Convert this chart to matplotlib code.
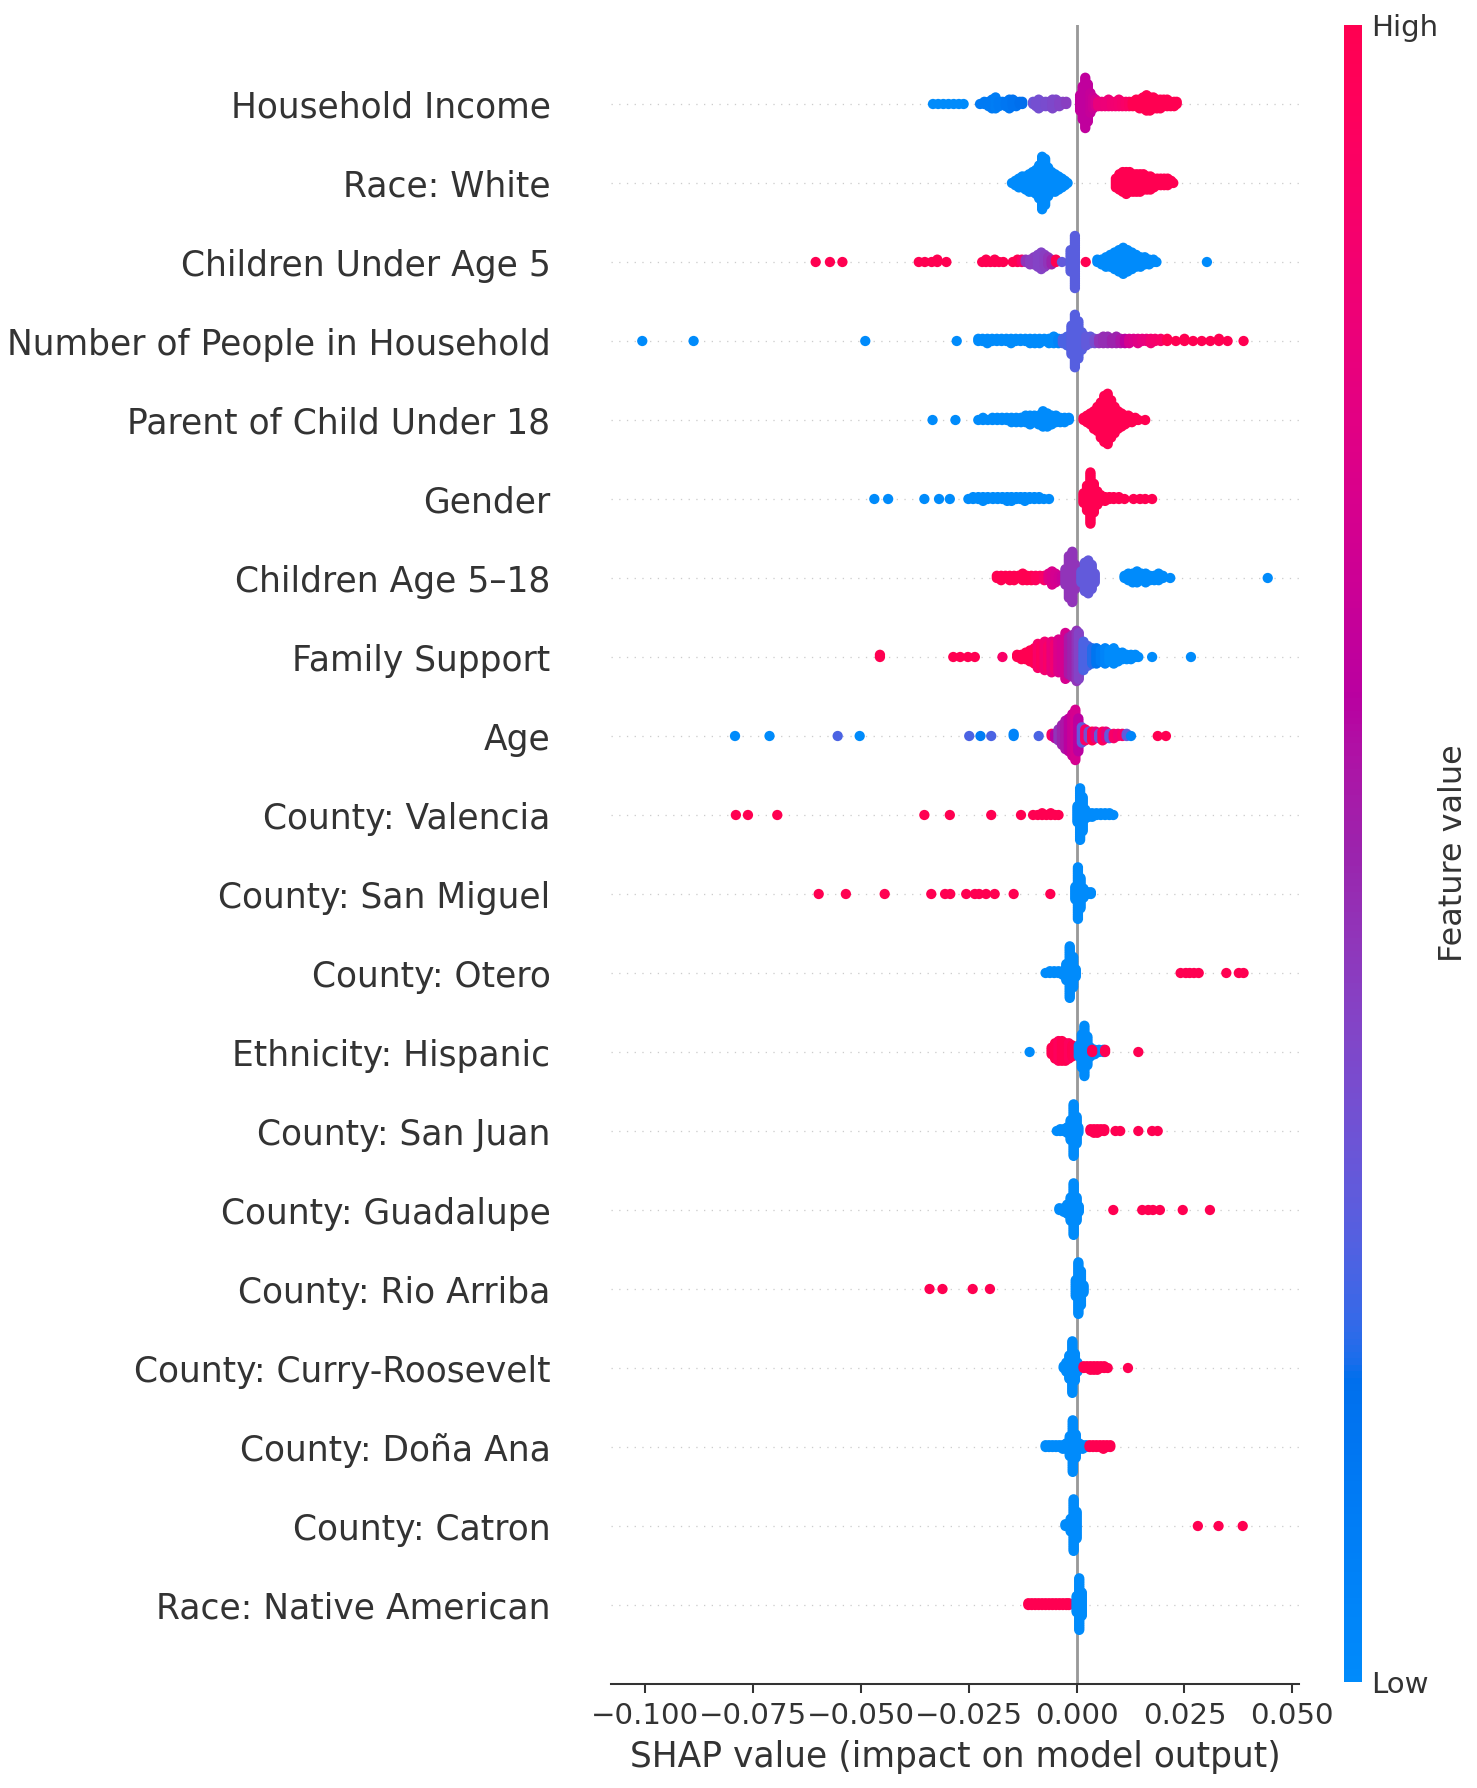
import numpy as np
import matplotlib
matplotlib.use('Agg')
import matplotlib.pyplot as plt
from matplotlib.colors import LinearSegmentedColormap
from matplotlib.ticker import MultipleLocator

features = ['Household Income', 'Race: White', 'Children Under Age 5',
            'Number of People in Household', 'Parent of Child Under 18', 'Gender',
            'Children Age 5–18', 'Family Support', 'Age', 'County: Valencia',
            'County: San Miguel', 'County: Otero', 'Ethnicity: Hispanic',
            'County: San Juan', 'County: Guadalupe', 'County: Rio Arriba',
            'County: Curry-Roosevelt', 'County: Doña Ana', 'County: Catron',
            'Race: Native American']

# each entry: (SHAP value, number of points stacked at that value, feature value 0=low..1=high)
household_income = [
    (-0.0333, 1, 0.0), (-0.0321, 1, 0.0), (-0.0309, 1, 0.0), (-0.0297, 1, 0.0),
    (-0.0285, 1, 0.0), (-0.0273, 1, 0.0), (-0.0262, 1, 0.0),
    (-0.0224, 1, 0.12), (-0.0214, 2, 0.12), (-0.0204, 3, 0.12), (-0.0196, 5, 0.12),
    (-0.0188, 6, 0.1), (-0.0180, 3, 0.12), (-0.0172, 2, 0.12), (-0.0164, 3, 0.14),
    (-0.0156, 5, 0.14), (-0.0148, 4, 0.16), (-0.0140, 3, 0.16), (-0.0132, 2, 0.18),
    (-0.0126, 2, 0.18),
    (-0.0101, 2, 0.33), (-0.0094, 3, 0.35), (-0.0088, 5, 0.35), (-0.0080, 3, 0.35),
    (-0.0072, 3, 0.36), (-0.0064, 3, 0.36), (-0.0056, 5, 0.38), (-0.0048, 4, 0.38),
    (-0.0040, 3, 0.4), (-0.0032, 2, 0.4), (-0.0024, 2, 0.42),
    (0.0008, 8, 0.62), (0.0014, 16, 0.62), (0.0020, 24, 0.62), (0.0026, 18, 0.62),
    (0.0032, 10, 0.64), (0.0038, 6, 0.66), (0.0044, 4, 0.7),
    (0.0050, 3, 0.8), (0.0058, 3, 0.8), (0.0066, 3, 0.82), (0.0074, 4, 0.82),
    (0.0082, 3, 0.84), (0.0090, 3, 0.85), (0.0098, 4, 0.86), (0.0106, 3, 0.88),
    (0.0114, 3, 0.9), (0.0122, 3, 0.92),
    (0.0130, 3, 1.0), (0.0138, 4, 1.0), (0.0146, 5, 1.0), (0.0154, 6, 1.0),
    (0.0162, 8, 1.0), (0.0170, 7, 1.0), (0.0178, 6, 1.0), (0.0186, 5, 1.0),
    (0.0194, 5, 1.0), (0.0202, 4, 1.0), (0.0210, 4, 1.0), (0.0218, 3, 1.0),
    (0.0226, 3, 1.0), (0.0232, 2, 1.0)]

race_white = [
    (-0.0150, 1, 0.0), (-0.0142, 3, 0.0), (-0.0134, 5, 0.0), (-0.0126, 6, 0.0),
    (-0.0118, 7, 0.0), (-0.0110, 9, 0.0), (-0.0102, 10, 0.0), (-0.0094, 12, 0.0),
    (-0.0087, 16, 0.0), (-0.0080, 25, 0.0), (-0.0073, 22, 0.0), (-0.0066, 14, 0.0),
    (-0.0058, 10, 0.0), (-0.0050, 9, 0.0), (-0.0042, 7, 0.0), (-0.0034, 5, 0.0),
    (-0.0027, 3, 0.0), (-0.0021, 1, 0.0),
    (0.0091, 5, 1.0), (0.0099, 8, 1.0), (0.0107, 10, 1.0), (0.0115, 11, 1.0),
    (0.0123, 10, 1.0), (0.0131, 9, 1.0), (0.0139, 9, 1.0), (0.0147, 9, 1.0),
    (0.0155, 8, 1.0), (0.0163, 7, 1.0), (0.0171, 7, 1.0), (0.0179, 5, 1.0),
    (0.0187, 4, 1.0), (0.0195, 4, 1.0), (0.0203, 4, 1.0), (0.0211, 4, 1.0),
    (0.0219, 2, 1.0), (0.0224, 1, 1.0)]

children_under_5 = [
    (-0.0605, 1, 1.0), (-0.0572, 1, 1.0), (-0.0543, 1, 1.0),
    (-0.0366, 1, 1.0), (-0.0352, 1, 1.0), (-0.0336, 1, 1.0), (-0.0323, 2, 1.0),
    (-0.0302, 1, 1.0),
    (-0.0219, 1, 1.0), (-0.0210, 2, 1.0), (-0.0200, 1, 1.0), (-0.0190, 2, 1.0),
    (-0.0180, 1, 1.0), (-0.0170, 1, 1.0), (-0.0148, 1, 1.0), (-0.0137, 2, 1.0),
    (-0.0127, 2, 0.9),
    (-0.0118, 2, 0.45), (-0.0108, 3, 0.42), (-0.0099, 4, 0.42), (-0.0090, 6, 0.4),
    (-0.0082, 8, 0.4), (-0.0074, 6, 0.42), (-0.0066, 4, 0.45), (-0.0058, 3, 0.5),
    (-0.0048, 2, 1.0), (-0.0034, 1, 0.3),
    (-0.0014, 10, 0.28), (-0.0004, 23, 0.28),
    (0.0021, 1, 1.0),
    (0.0048, 2, 0.0), (0.0058, 3, 0.0), (0.0068, 5, 0.0), (0.0078, 6, 0.0),
    (0.0088, 8, 0.0), (0.0098, 10, 0.0), (0.0108, 12, 0.0), (0.0118, 10, 0.0),
    (0.0128, 8, 0.0), (0.0138, 6, 0.0), (0.0148, 5, 0.0), (0.0158, 4, 0.0),
    (0.0168, 3, 0.0), (0.0178, 2, 0.0), (0.0185, 1, 0.0), (0.0302, 1, 0.0)]

people_in_household = [
    (-0.1007, 1, 0.0), (-0.0888, 1, 0.0), (-0.0490, 1, 0.0), (-0.0278, 1, 0.0),
    (-0.0228, 2, 0.0), (-0.0218, 2, 0.0), (-0.0207, 3, 0.0), (-0.0196, 2, 0.0),
    (-0.0185, 2, 0.0), (-0.0174, 2, 0.0), (-0.0163, 2, 0.0), (-0.0152, 3, 0.0),
    (-0.0141, 2, 0.0), (-0.0130, 2, 0.0), (-0.0119, 2, 0.0), (-0.0108, 3, 0.0),
    (-0.0097, 3, 0.0), (-0.0086, 3, 0.0), (-0.0075, 2, 0.0), (-0.0064, 3, 0.0),
    (-0.0053, 4, 0.0), (-0.0042, 3, 0.05),
    (-0.0032, 3, 0.25), (-0.0022, 5, 0.25), (-0.0012, 14, 0.27), (-0.0004, 25, 0.27),
    (0.0004, 18, 0.27), (0.0012, 9, 0.27), (0.0022, 5, 0.3), (0.0032, 4, 0.3),
    (0.0042, 3, 0.35),
    (0.0052, 3, 0.45), (0.0062, 4, 0.47), (0.0072, 4, 0.47), (0.0082, 3, 0.5),
    (0.0092, 4, 0.5), (0.0102, 3, 0.55), (0.0112, 3, 0.6),
    (0.0122, 3, 0.7), (0.0132, 2, 0.72), (0.0142, 3, 0.75), (0.0152, 2, 0.78),
    (0.0162, 2, 0.8), (0.0172, 3, 0.85), (0.0182, 2, 0.88), (0.0195, 2, 0.9),
    (0.0210, 2, 1.0), (0.0230, 1, 1.0), (0.0250, 2, 1.0), (0.0270, 1, 1.0),
    (0.0290, 1, 1.0), (0.0310, 1, 1.0), (0.0330, 2, 1.0), (0.0350, 1, 1.0),
    (0.0387, 1, 1.0)]

parent_under_18 = [
    (-0.0334, 1, 0.0), (-0.0281, 1, 0.0), (-0.0228, 1, 0.0), (-0.0217, 2, 0.0),
    (-0.0206, 1, 0.0), (-0.0195, 2, 0.0), (-0.0184, 2, 0.0), (-0.0173, 2, 0.0),
    (-0.0162, 2, 0.0), (-0.0151, 3, 0.0), (-0.0140, 3, 0.0), (-0.0129, 3, 0.0),
    (-0.0118, 4, 0.0), (-0.0108, 5, 0.0), (-0.0098, 4, 0.0), (-0.0088, 5, 0.0),
    (-0.0078, 8, 0.0), (-0.0068, 7, 0.0), (-0.0058, 5, 0.0), (-0.0048, 4, 0.0),
    (-0.0038, 3, 0.0), (-0.0028, 3, 0.0), (-0.0018, 2, 0.0),
    (0.0016, 2, 1.0), (0.0024, 4, 1.0), (0.0032, 6, 1.0), (0.0040, 9, 1.0),
    (0.0048, 12, 1.0), (0.0056, 17, 1.0), (0.0064, 22, 1.0), (0.0072, 24, 1.0),
    (0.0080, 18, 1.0), (0.0088, 13, 1.0), (0.0096, 9, 1.0), (0.0104, 7, 1.0),
    (0.0112, 5, 1.0), (0.0120, 4, 1.0), (0.0128, 3, 1.0), (0.0136, 2, 1.0),
    (0.0143, 1, 1.0), (0.0159, 1, 1.0)]

gender = [
    (-0.0469, 1, 0.0), (-0.0437, 1, 0.0), (-0.0353, 1, 0.0), (-0.0319, 1, 0.0),
    (-0.0294, 1, 0.0), (-0.0251, 1, 0.0), (-0.0240, 2, 0.0), (-0.0228, 2, 0.0),
    (-0.0217, 3, 0.0), (-0.0206, 2, 0.0), (-0.0194, 2, 0.0), (-0.0183, 2, 0.0),
    (-0.0172, 2, 0.0), (-0.0161, 3, 0.0), (-0.0151, 3, 0.0), (-0.0140, 2, 0.0),
    (-0.0130, 2, 0.0), (-0.0120, 3, 0.0), (-0.0109, 2, 0.0), (-0.0098, 2, 0.0),
    (-0.0087, 2, 0.0), (-0.0076, 1, 0.0), (-0.0064, 1, 0.0),
    (0.0016, 6, 1.0), (0.0024, 14, 1.0), (0.0032, 28, 1.0), (0.0040, 16, 1.0),
    (0.0048, 8, 1.0), (0.0056, 4, 1.0), (0.0066, 3, 1.0), (0.0076, 2, 1.0),
    (0.0086, 2, 1.0), (0.0098, 2, 1.0), (0.0111, 1, 1.0), (0.0132, 1, 1.0),
    (0.0147, 1, 1.0), (0.0159, 1, 1.0), (0.0175, 1, 1.0)]

children_5_18 = [
    (-0.0185, 2, 1.0), (-0.0175, 3, 1.0), (-0.0165, 2, 1.0), (-0.0155, 3, 1.0),
    (-0.0145, 3, 1.0), (-0.0135, 2, 1.0), (-0.0125, 4, 1.0), (-0.0115, 3, 1.0),
    (-0.0105, 3, 1.0), (-0.0095, 3, 0.95), (-0.0085, 2, 0.95), (-0.0075, 3, 0.9),
    (-0.0065, 4, 0.75), (-0.0057, 7, 0.72), (-0.0049, 5, 0.7), (-0.0041, 3, 0.68),
    (-0.0034, 3, 0.65),
    (-0.0026, 8, 0.45), (-0.0018, 20, 0.45), (-0.0010, 24, 0.45), (-0.0003, 12, 0.45),
    (0.0011, 6, 0.3), (0.0019, 14, 0.3), (0.0027, 16, 0.3), (0.0035, 12, 0.3),
    (0.0042, 5, 0.3),
    (0.0111, 2, 0.0), (0.0120, 4, 0.0), (0.0130, 5, 0.0), (0.0140, 6, 0.0),
    (0.0150, 4, 0.0), (0.0160, 5, 0.0), (0.0170, 3, 0.0), (0.0180, 3, 0.0),
    (0.0190, 4, 0.0), (0.0200, 2, 0.0), (0.0217, 1, 0.0), (0.0443, 1, 0.0)]

family_support = [
    (-0.0456, 2, 1.0), (-0.0286, 1, 1.0), (-0.0270, 1, 1.0), (-0.0252, 1, 1.0),
    (-0.0236, 1, 1.0), (-0.0172, 1, 0.9),
    (-0.0138, 2, 1.0), (-0.0128, 3, 1.0), (-0.0118, 4, 1.0), (-0.0108, 6, 1.0),
    (-0.0098, 8, 1.0), (-0.0090, 12, 0.9), (-0.0082, 10, 0.95), (-0.0074, 14, 0.85),
    (-0.0066, 11, 0.9), (-0.0058, 15, 0.8), (-0.0050, 13, 0.85),
    (-0.0042, 16, 0.72), (-0.0034, 14, 0.7), (-0.0026, 22, 0.7),
    (-0.0018, 18, 0.55), (-0.0010, 20, 0.5), (0.0000, 24, 0.45), (0.0005, 22, 0.4),
    (0.0016, 14, 0.25), (0.0026, 10, 0.25), (0.0036, 8, 0.2), (0.0046, 8, 0.15),
    (0.0056, 6, 0.1),
    (0.0066, 8, 0.05), (0.0076, 6, 0.0), (0.0086, 8, 0.0), (0.0096, 5, 0.0),
    (0.0106, 4, 0.0), (0.0116, 3, 0.0), (0.0126, 3, 0.0), (0.0136, 2, 0.0),
    (0.0143, 1, 0.0), (0.0175, 1, 0.0), (0.0265, 1, 0.0)]

age = [
    (-0.0792, 1, 0.0), (-0.0712, 1, 0.0), (-0.0554, 1, 0.25), (-0.0503, 1, 0.0),
    (-0.0249, 1, 0.25), (-0.0223, 1, 0.1), (-0.0198, 1, 0.25), (-0.0146, 2, 0.05),
    (-0.0088, 1, 0.25),
    (-0.0058, 2, 0.9), (-0.0050, 3, 0.6), (-0.0042, 6, 0.45), (-0.0034, 10, 0.5),
    (-0.0026, 14, 0.55), (-0.0018, 16, 0.6), (-0.0010, 20, 0.65), (-0.0003, 24, 0.7),
    (0.0004, 16, 0.6), (0.0012, 8, 0.3), (0.0020, 6, 0.9), (0.0028, 4, 0.35),
    (0.0036, 5, 1.0), (0.0044, 4, 0.8), (0.0052, 3, 0.3), (0.0060, 5, 0.95),
    (0.0068, 4, 0.8), (0.0076, 3, 0.3), (0.0086, 3, 0.9), (0.0096, 2, 0.85),
    (0.0106, 2, 0.9), (0.0116, 2, 0.3), (0.0126, 1, 0.05),
    (0.0188, 1, 1.0), (0.0207, 1, 1.0)]

county_valencia = [
    (-0.0790, 1, 1.0), (-0.0762, 1, 1.0), (-0.0694, 1, 1.0), (-0.0353, 1, 1.0),
    (-0.0294, 1, 1.0), (-0.0198, 1, 1.0), (-0.0129, 1, 1.0), (-0.0101, 1, 1.0),
    (-0.0090, 1, 1.0), (-0.0080, 2, 1.0), (-0.0070, 1, 1.0), (-0.0060, 2, 1.0),
    (-0.0050, 1, 1.0), (-0.0042, 1, 1.0),
    (0.0002, 10, 0.0), (0.0008, 30, 0.0), (0.0014, 20, 0.0), (0.0020, 6, 0.0),
    (0.0028, 3, 0.0), (0.0036, 3, 0.0), (0.0046, 2, 0.0), (0.0056, 2, 0.0),
    (0.0066, 2, 0.0), (0.0076, 2, 0.0), (0.0085, 1, 0.0)]

county_san_miguel = [
    (-0.0598, 1, 1.0), (-0.0535, 1, 1.0), (-0.0445, 1, 1.0), (-0.0337, 1, 1.0),
    (-0.0305, 1, 1.0), (-0.0293, 1, 1.0), (-0.0256, 1, 1.0), (-0.0236, 1, 1.0),
    (-0.0226, 1, 1.0), (-0.0210, 1, 1.0), (-0.0190, 1, 1.0), (-0.0146, 1, 1.0),
    (-0.0061, 1, 1.0),
    (-0.0003, 8, 0.0), (0.0003, 30, 0.0), (0.0009, 18, 0.0), (0.0016, 6, 0.0),
    (0.0026, 2, 0.0), (0.0033, 2, 0.0)]

county_otero = [
    (-0.0072, 1, 0.0), (-0.0062, 2, 0.0), (-0.0052, 2, 0.0), (-0.0042, 2, 0.0),
    (-0.0032, 3, 0.0), (-0.0024, 10, 0.0), (-0.0016, 30, 0.0), (-0.0008, 18, 0.0),
    (-0.0002, 5, 0.0),
    (0.0241, 1, 1.0), (0.0253, 1, 1.0), (0.0262, 1, 1.0), (0.0272, 1, 1.0),
    (0.0283, 1, 1.0), (0.0347, 1, 1.0), (0.0376, 1, 1.0), (0.0387, 1, 1.0)]

ethnicity_hispanic = [
    (-0.0109, 1, 0.0),
    (-0.0058, 4, 1.0), (-0.0050, 8, 1.0), (-0.0042, 10, 0.95), (-0.0034, 10, 1.0),
    (-0.0026, 9, 1.0), (-0.0018, 8, 0.95), (-0.0010, 6, 1.0),
    (0.0005, 6, 0.0), (0.0012, 16, 0.0), (0.0018, 24, 0.0), (0.0025, 14, 0.0),
    (0.0032, 5, 0.0), (0.0042, 3, 0.0), (0.0052, 2, 0.0), (0.0062, 2, 0.0),
    (0.0036, 2, 1.0), (0.0066, 2, 1.0), (0.0143, 1, 1.0)]

county_san_juan = [
    (-0.0046, 1, 0.0), (-0.0038, 2, 0.0), (-0.0030, 2, 0.0), (-0.0022, 4, 0.0),
    (-0.0014, 12, 0.0), (-0.0007, 30, 0.0), (0.0000, 16, 0.0), (0.0004, 4, 0.0),
    (0.0032, 2, 1.0), (0.0040, 3, 1.0), (0.0048, 3, 1.0), (0.0056, 2, 1.0),
    (0.0064, 2, 1.0), (0.0090, 1, 1.0), (0.0101, 1, 1.0), (0.0143, 1, 1.0),
    (0.0175, 1, 1.0), (0.0188, 1, 1.0)]

county_guadalupe = [
    (-0.0040, 2, 0.0), (-0.0030, 3, 0.0), (-0.0022, 6, 0.0), (-0.0014, 14, 0.0),
    (-0.0007, 30, 0.0), (0.0000, 14, 0.0), (0.0005, 4, 0.0),
    (0.0085, 1, 1.0), (0.0152, 1, 1.0), (0.0166, 1, 1.0), (0.0177, 1, 1.0),
    (0.0193, 1, 1.0), (0.0246, 1, 1.0), (0.0309, 1, 1.0)]

county_rio_arriba = [
    (-0.0341, 1, 1.0), (-0.0311, 1, 1.0), (-0.0241, 1, 1.0), (-0.0201, 1, 1.0),
    (-0.0002, 10, 0.0), (0.0004, 30, 0.0), (0.0010, 20, 0.0), (0.0016, 5, 0.0)]

county_curry_roosevelt = [
    (-0.0030, 2, 0.0), (-0.0024, 6, 0.0), (-0.0017, 14, 0.0), (-0.0010, 30, 0.0),
    (-0.0004, 16, 0.0), (0.0002, 6, 0.0),
    (0.0016, 2, 1.0), (0.0024, 2, 1.0), (0.0032, 3, 1.0), (0.0040, 3, 1.0),
    (0.0048, 3, 1.0), (0.0056, 2, 1.0), (0.0064, 2, 1.0), (0.0072, 1, 1.0),
    (0.0119, 1, 1.0)]

county_dona_ana = [
    (-0.0072, 2, 0.0), (-0.0064, 2, 0.0), (-0.0056, 2, 0.0), (-0.0048, 2, 0.0),
    (-0.0040, 2, 0.0), (-0.0032, 3, 0.0), (-0.0024, 4, 0.0), (-0.0016, 12, 0.0),
    (-0.0009, 30, 0.0), (-0.0002, 14, 0.0), (0.0006, 4, 0.0), (0.0014, 3, 0.0),
    (0.0022, 2, 0.0),
    (0.0030, 2, 1.0), (0.0038, 2, 1.0), (0.0046, 2, 1.0), (0.0054, 2, 1.0),
    (0.0062, 3, 1.0), (0.0070, 2, 1.0), (0.0078, 2, 1.0)]

county_catron = [
    (-0.0026, 2, 0.0), (-0.0014, 8, 0.0), (-0.0007, 30, 0.0), (0.0000, 16, 0.0),
    (0.0281, 1, 1.0), (0.0329, 1, 1.0), (0.0385, 1, 1.0)]

race_native_american = [
    (-0.0112, 2, 1.0), (-0.0104, 2, 1.0), (-0.0096, 2, 1.0), (-0.0088, 2, 1.0),
    (-0.0080, 2, 1.0), (-0.0072, 2, 1.0), (-0.0064, 2, 1.0), (-0.0056, 2, 1.0),
    (-0.0048, 2, 1.0), (-0.0040, 2, 1.0), (-0.0032, 2, 1.0), (-0.0024, 2, 1.0),
    (-0.0018, 2, 1.0),
    (0.0000, 10, 0.0), (0.0006, 30, 0.0), (0.0012, 14, 0.0)]

rows = [household_income, race_white, children_under_5, people_in_household,
        parent_under_18, gender, children_5_18, family_support, age,
        county_valencia, county_san_miguel, county_otero, ethnicity_hispanic,
        county_san_juan, county_guadalupe, county_rio_arriba,
        county_curry_roosevelt, county_dona_ana, county_catron,
        race_native_american]


# shap style red-blue colour scale, built in LCH space
def lch2rgb(l, c, h):
    a = c * np.cos(h)
    b = c * np.sin(h)
    fy = (l + 16.0) / 116.0
    f = np.array([fy + a / 500.0, fy, fy - b / 200.0])
    xyz = np.where(f > 0.2068966, f ** 3, (f - 16.0 / 116.0) / 7.787)
    xyz = xyz * np.array([0.95047, 1.0, 1.08883])
    m = np.array([[3.2406, -1.5372, -0.4986],
                  [-0.9689, 1.8758, 0.0415],
                  [0.0557, -0.2040, 1.0570]])
    rgb = m @ xyz
    rgb = np.where(rgb > 0.0031308,
                   1.055 * np.power(np.clip(rgb, 1e-12, None), 1 / 2.4) - 0.055,
                   12.92 * rgb)
    return np.clip(rgb, 0, 1)


nsteps = 100
l_vals = list(np.linspace(54., 40., nsteps // 2)) + list(np.linspace(40., 54., nsteps // 2))
c_vals = np.linspace(70., 90., nsteps)
h_vals = np.linspace(4.6588, 0.35470565 + 2 * np.pi, nsteps)
cmap_cols = [lch2rgb(l, c, h) for l, c, h in zip(l_vals, c_vals, h_vals)]
red_blue = LinearSegmentedColormap.from_list('red_blue', cmap_cols)

text_col = '#333333'
dpi = 185
fig = plt.figure(figsize=(1477 / dpi, 1788 / dpi), dpi=dpi)
ax = fig.add_axes([611 / 1477, 1 - 1684 / 1788, 688 / 1477, 1659 / 1788])

ax.axvline(x=0, color='#999999', lw=1.1, zorder=-1)
n_rows = len(rows)
for i, groups in enumerate(rows):
    pos = n_rows - 1 - i
    ax.axhline(y=pos, color='#cccccc', lw=0.5, dashes=(1, 5), zorder=-1)
    xs, ys, cs = [], [], []
    for x, n, c in groups:
        for layer in range(n):
            xs.append(x)
            ys.append(np.ceil(layer / 2) * ((layer % 2) * 2 - 1))
            cs.append(c)
    ys = np.array(ys, dtype=float)
    ys *= 0.9 * (0.4 / np.max(ys + 1))
    ax.scatter(xs, pos + ys, c=cs, cmap=red_blue, vmin=0, vmax=1, s=16,
               linewidth=0, alpha=1, zorder=3, rasterized=True)

ax.set_ylim(-1, n_rows)
ax.xaxis.set_major_locator(MultipleLocator(0.025))
ax.set_yticks(range(n_rows))
ax.set_yticklabels(features[::-1], fontsize=13.45, color=text_col)
ax.yaxis.set_ticks_position('none')
ax.xaxis.set_ticks_position('bottom')
ax.tick_params('y', length=20, width=0.5, which='major')
ax.tick_params('x', labelsize=11.4, labelcolor=text_col, color=text_col)
for side in ['right', 'top', 'left']:
    ax.spines[side].set_visible(False)
ax.spines['bottom'].set_color(text_col)
ax.set_xlabel('SHAP value (impact on model output)', fontsize=13.45, color=text_col)

cax = fig.add_axes([1344 / 1477, 1 - 1682 / 1788, 18 / 1477, 1657 / 1788])
sm = plt.cm.ScalarMappable(cmap=red_blue)
sm.set_array([0, 1])
cb = fig.colorbar(sm, cax=cax, ticks=[0, 1])
cb.set_ticklabels(['Low', 'High'])
cb.set_label('Feature value', size=12.4, labelpad=0, color=text_col)
cb.ax.tick_params(labelsize=11.4, length=0, labelcolor=text_col)
cb.outline.set_visible(False)

fig.savefig('out.png', dpi=dpi)
